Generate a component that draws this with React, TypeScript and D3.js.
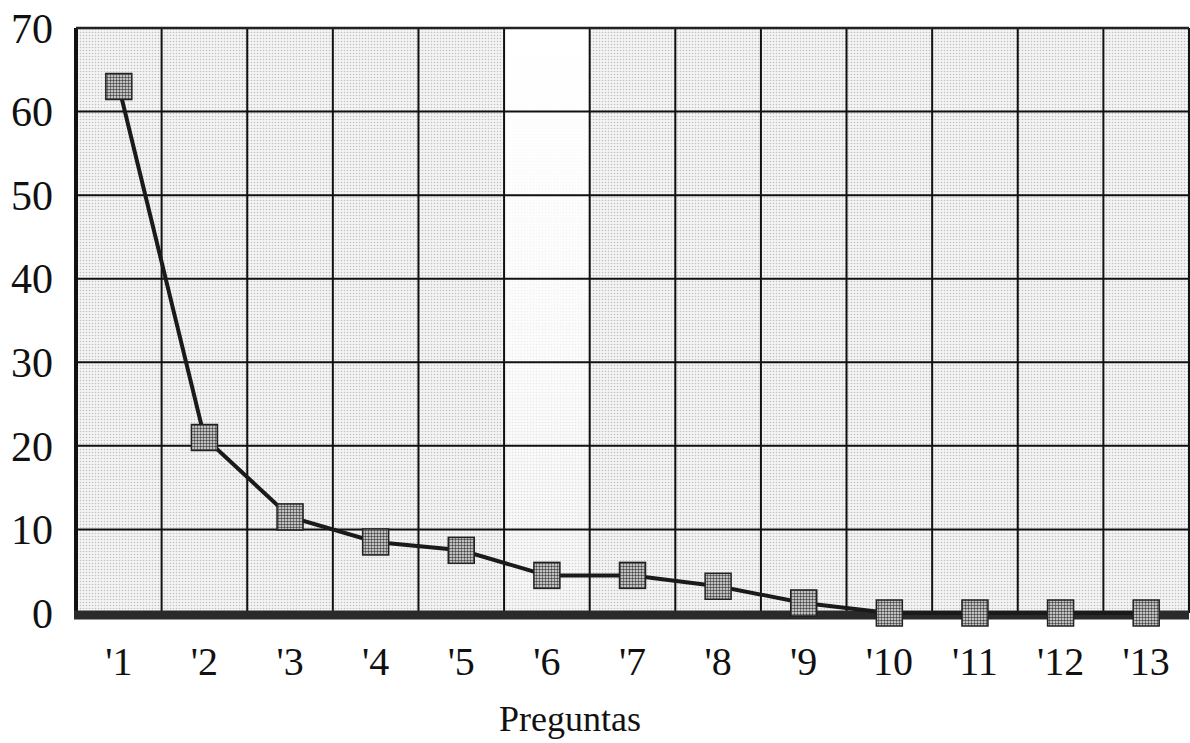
import React from "react";
import * as d3 from "d3";

const categories = ["'1", "'2", "'3", "'4", "'5", "'6", "'7", "'8", "'9", "'10", "'11", "'12", "'13"];
const values = [63, 21, 11.5, 8.5, 7.5, 4.5, 4.5, 3.2, 1.2, 0, 0, 0, 0];
const yTicks = [0, 10, 20, 30, 40, 50, 60, 70];
const xTitle = "Preguntas";

export default function App() {
  const width = 1190;
  const height = 743;
  const margin = { top: 28, right: 0, bottom: 130, left: 76 };
  const plotW = 1113;
  const plotH = height - margin.top - margin.bottom;

  const x = d3.scaleBand().domain(categories).range([0, plotW]).padding(0);
  const y = d3.scaleLinear().domain([0, 70]).range([plotH, 0]);

  const line = d3
    .line<number>()
    .x((d, i) => (x(categories[i]) ?? 0) + x.bandwidth() / 2)
    .y((d) => y(d));

  const font = "'Liberation Serif', 'Times New Roman', serif";
  const ms = 26;

  return (
    <svg
      width={width}
      height={height}
      style={{ position: "absolute", left: 0, top: 0, background: "#fff" }}
    >
      <defs>
        <pattern id="stipple" width="3" height="3" patternUnits="userSpaceOnUse">
          <rect width="3" height="3" fill="#f4f4f4" />
          <circle cx="1.5" cy="1.5" r="0.8" fill="#c2c2c2" />
        </pattern>
        <pattern id="marker" width="3" height="3" patternUnits="userSpaceOnUse">
          <rect width="3" height="3" fill="#eaeaea" />
          <circle cx="1.5" cy="1.5" r="1.2" fill="#444" />
        </pattern>
        <linearGradient id="fade" x1="0" y1="0" x2="0" y2="1">
          <stop offset="0" stopColor="#fff" stopOpacity={1} />
          <stop offset="0.6" stopColor="#fff" stopOpacity={0.7} />
          <stop offset="1" stopColor="#fff" stopOpacity={0.2} />
        </linearGradient>
      </defs>
      <g transform={`translate(${margin.left},${margin.top})`}>
        <rect width={plotW} height={plotH} fill="url(#stipple)" />
        <rect
          x={x(categories[5])}
          width={x.bandwidth()}
          height={plotH}
          fill="url(#fade)"
        />
        {yTicks.map((t) => (
          <line key={"h" + t} x1={0} x2={plotW} y1={y(t)} y2={y(t)} stroke="#111" strokeWidth={2} />
        ))}
        {categories.map((c) => (
          <line
            key={"v" + c}
            x1={(x(c) ?? 0) + x.bandwidth()}
            x2={(x(c) ?? 0) + x.bandwidth()}
            y1={0}
            y2={plotH}
            stroke="#111"
            strokeWidth={2}
          />
        ))}
        <line x1={0} x2={0} y1={0} y2={plotH} stroke="#111" strokeWidth={4} />
        <line x1={0} x2={plotW} y1={0} y2={0} stroke="#222" strokeWidth={2.5} />
        <line x1={-2} x2={plotW} y1={plotH + 2} y2={plotH + 2} stroke="#2a2a2a" strokeWidth={9} />
        <path d={line(values) ?? ""} fill="none" stroke="#1a1a1a" strokeWidth={4} />
        {values.map((v, i) => (
          <rect
            key={"m" + i}
            x={(x(categories[i]) ?? 0) + x.bandwidth() / 2 - ms / 2}
            y={y(v) - ms / 2}
            width={ms}
            height={ms}
            fill="url(#marker)"
            stroke="#222"
            strokeWidth={1.5}
          />
        ))}
        {yTicks.map((t) => (
          <text
            key={"yt" + t}
            x={-23}
            y={y(t)}
            dy="0.35em"
            textAnchor="end"
            fontFamily={font}
            fontSize={42}
            fill="#111"
          >
            {t}
          </text>
        ))}
        {categories.map((c) => (
          <text
            key={"xt" + c}
            x={(x(c) ?? 0) + x.bandwidth() / 2}
            y={plotH + 62}
            textAnchor="middle"
            fontFamily={font}
            fontSize={40}
            fill="#111"
          >
            {c}
          </text>
        ))}
        <text
          x={494}
          y={plotH + 118}
          textAnchor="middle"
          fontFamily={font}
          fontSize={36}
          fill="#111"
        >
          {xTitle}
        </text>
      </g>
    </svg>
  );
}
